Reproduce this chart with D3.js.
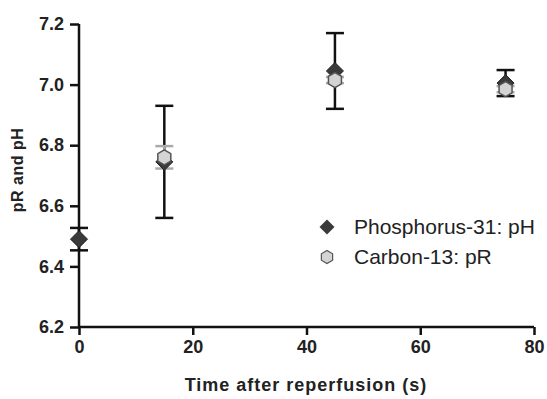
<!DOCTYPE html>
<html><head><meta charset="utf-8">
<script src="https://cdn.jsdelivr.net/npm/d3@7"></script>
<style>body{margin:0;background:#fff}</style>
</head><body>
<svg id="c" width="547" height="399"></svg>
<script>
const times = [0, 15, 45, 75];
const phMean = [6.49, 6.745, 7.045, 7.005];
const phErr  = [0.037, 0.185, 0.125, 0.043];
const prTimes = [15, 45, 75];
const prMean = [6.76, 7.015, 6.985];
const prErr  = [0.037, 0.01, 0.01];
const xTicks = [0, 20, 40, 60, 80];
const yTicks = [6.2, 6.4, 6.6, 6.8, 7.0, 7.2];
const seriesNames = ["Phosphorus-31: pH", "Carbon-13: pR"];

const svg = d3.select("#c");
const x = d3.scaleLinear().domain([0, 80]).range([79, 534]);
const y = d3.scaleLinear().domain([6.2, 7.2]).range([327, 24]);
const font = "Liberation Sans, Arial, sans-serif";

// axes
const xa = svg.append("g").attr("transform", "translate(0,327)")
  .call(d3.axisBottom(x).tickValues(xTicks).tickSize(8).tickPadding(5).tickFormat(d3.format("d")));
const ya = svg.append("g").attr("transform", "translate(79,0)")
  .call(d3.axisLeft(y).tickValues(yTicks).tickSize(9).tickPadding(6).tickFormat(d3.format(".1f")));
[xa, ya].forEach(a => {
  a.select(".domain").attr("stroke", "#111").attr("stroke-width", 2.5);
  a.selectAll(".tick line").attr("stroke", "#111").attr("stroke-width", 2.5);
  a.selectAll("text").attr("font-family", font).attr("font-size", 18).attr("font-weight", "bold").attr("fill", "#222");
});
xa.select(".domain").attr("d", "M79,0H534");
ya.select(".domain").attr("d", "M0,327V24");

// error bars
function errBars(ts, means, errs, color, w, cap) {
  const g = svg.append("g");
  ts.forEach((t, i) => {
    const cx = x(t), top = y(means[i] + errs[i]), bot = y(means[i] - errs[i]);
    g.append("line").attr("x1", cx).attr("x2", cx).attr("y1", top).attr("y2", bot).attr("stroke", color).attr("stroke-width", w);
    [top, bot].forEach(yy => g.append("line").attr("x1", cx - cap).attr("x2", cx + cap).attr("y1", yy).attr("y2", yy).attr("stroke", color).attr("stroke-width", w));
  });
}
errBars(times, phMean, phErr, "#111", 2.5, 9);
errBars(prTimes, prMean, prErr, "#aaa", 2.5, 9);

function diamondPath(s) { return `M0,${-s}L${s},0L0,${s}L${-s},0Z`; }
function hexPath(r) {
  const pts = d3.range(6).map(k => { const a = Math.PI / 6 + k * Math.PI / 3; return [r * Math.cos(a), r * Math.sin(a)]; });
  return "M" + pts.map(p => p.join(",")).join("L") + "Z";
}

svg.append("g").selectAll("path").data(times).join("path")
  .attr("d", diamondPath(8.5))
  .attr("transform", (d, i) => `translate(${x(d)},${y(phMean[i])})`)
  .attr("fill", "#3a3a3a").attr("stroke", "#222").attr("stroke-width", 1);

svg.append("g").selectAll("path").data(prTimes).join("path")
  .attr("d", hexPath(7.5))
  .attr("transform", (d, i) => `translate(${x(d)},${y(prMean[i])})`)
  .attr("fill", "#d4d4d4").attr("stroke", "#555").attr("stroke-width", 1.5);

// legend
const leg = svg.append("g");
leg.append("path").attr("d", diamondPath(7.5)).attr("transform", "translate(327,227)").attr("fill", "#3a3a3a");
leg.append("path").attr("d", hexPath(6.5)).attr("transform", "translate(327,257)").attr("fill", "#d4d4d4").attr("stroke", "#555").attr("stroke-width", 1.2);
seriesNames.forEach((n, i) => leg.append("text").attr("x", 354).attr("y", 234 + i * 30)
  .attr("font-family", font).attr("font-size", 21).attr("fill", "#222").text(n));

// axis titles
svg.append("text").attr("x", 306).attr("y", 391).attr("text-anchor", "middle")
  .attr("font-family", font).attr("font-size", 18).attr("font-weight", "bold").attr("letter-spacing", 1).attr("fill", "#222")
  .text("Time after reperfusion (s)");
svg.append("text").attr("transform", "translate(23,170) rotate(-90)").attr("text-anchor", "middle")
  .attr("font-family", font).attr("font-size", 16).attr("font-weight", "bold").attr("letter-spacing", 0.5).attr("fill", "#222")
  .text("pR and pH");
</script>
</body></html>
